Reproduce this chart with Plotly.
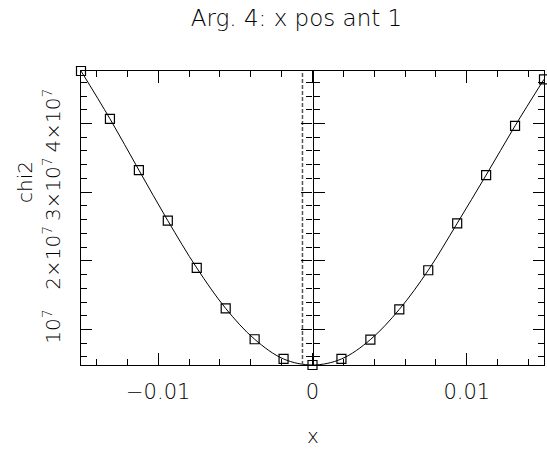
import plotly.graph_objects as go

# ---- data ----
x_vals = [-0.015, -0.013125, -0.01125, -0.009375, -0.0075, -0.005625, -0.00375, -0.001875, 0.0,
          0.001875, 0.00375, 0.005625, 0.0075, 0.009375, 0.01125, 0.013125, 0.015]
chi2_vals = [4.765e7, 4.069e7, 3.322e7, 2.585e7, 1.897e7, 1.307e7, 8.58e6, 5.71e6, 4.83e6,
             5.71e6, 8.53e6, 1.293e7, 1.863e7, 2.547e7, 3.249e7, 3.966e7, 4.644e7]
marker_x = [-0.00065]
x_tickvals = [-0.01, 0, 0.01]
x_ticktext = ["\u22120.01", "0", "0.01"]
y_tickvals = [1e7, 2e7, 3e7, 4e7]
y_ticktext = ["10<sup>7</sup>", "2\u00d710<sup>7</sup>", "3\u00d710<sup>7</sup>", "4\u00d710<sup>7</sup>"]

title_text = "Arg. 4: x pos ant 1"
xlabel = "x"
ylabel = "chi2"

FONT = "DejaVu Sans"
TXT = "#000000"
W = 200
xr = [min(x_vals), max(x_vals)]
yr = [min(chi2_vals), max(chi2_vals)]

fig = go.Figure()
fig.add_trace(go.Scatter(
    x=x_vals, y=chi2_vals, mode="lines+markers",
    line=dict(color="black", width=1, shape="spline", smoothing=1.0),
    marker=dict(symbol="square-open", size=9, color="black", line=dict(width=1.2, color="black")),
    cliponaxis=False, showlegend=False, hoverinfo="skip"))
fig.add_trace(go.Scatter(
    x=[marker_x[0], marker_x[0]], y=yr, mode="lines",
    line=dict(color="#555555", width=1.5, dash="4px,2px"),
    showlegend=False, hoverinfo="skip"))

zero_pos = (0 - xr[0]) / (xr[1] - xr[0])

axis_common = dict(showgrid=False, zeroline=False, showline=True, linecolor="black", linewidth=1.2,
                   automargin=False)

fig.update_layout(
    width=547, height=449,
    margin=dict(l=81, r=3, t=71, b=84, autoexpand=False),
    plot_bgcolor="white", paper_bgcolor="white",
    font=dict(family=FONT, color=TXT, size=20, weight=W),
    title=dict(text=title_text, x=296.5 / 547, xanchor="center", y=1 - 18 / 449, yanchor="middle",
               xref="container", yref="container", font=dict(size=23, family=FONT, color=TXT, weight=W),
               automargin=False),
    xaxis=dict(range=xr, tickvals=x_tickvals, ticktext=x_ticktext, ticks="inside", ticklen=12,
               tickwidth=1.2, tickcolor="black", mirror="ticks", ticklabelstandoff=8,
               minor=dict(dtick=0.002, tick0=0, ticks="inside", ticklen=6, tickwidth=1.2, tickcolor="black"),
               tickfont=dict(size=21, weight=W, color=TXT), **axis_common),
    yaxis=dict(range=yr, tickvals=y_tickvals, ticktext=y_ticktext, ticks="inside", ticklen=11,
               tickwidth=1.2, tickcolor="black", mirror="ticks", tickangle=-90, ticklabelstandoff=12,
               minor=dict(dtick=2e6, tick0=0, ticks="inside", ticklen=6, tickwidth=1.2, tickcolor="black"),
               tickfont=dict(size=20, weight=W, color=TXT), **axis_common),
    yaxis2=dict(range=yr, overlaying="y", anchor="free", position=zero_pos, side="left",
                tickvals=y_tickvals, showticklabels=False, ticks="outside", ticklen=11,
                tickwidth=1.2, tickcolor="black",
                minor=dict(dtick=2e6, tick0=0, ticks="outside", ticklen=6, tickwidth=1.2, tickcolor="black"),
                **axis_common),
    yaxis3=dict(range=yr, overlaying="y", anchor="free", position=zero_pos, side="left",
                tickvals=y_tickvals, showticklabels=False, ticks="inside", ticklen=11,
                tickwidth=1.2, tickcolor="black",
                minor=dict(dtick=2e6, tick0=0, ticks="inside", ticklen=6, tickwidth=1.2, tickcolor="black"),
                **axis_common),
    annotations=[
        dict(text=xlabel, xref="paper", yref="paper", x=0.5, y=(365 - 436) / 294,
             xanchor="center", yanchor="middle", showarrow=False, font=dict(size=20, color=TXT, weight=W)),
        dict(text=ylabel, xref="paper", yref="paper", x=(25 - 81) / 463, y=(365 - 182) / 294,
             xanchor="center", yanchor="middle", textangle=-90, showarrow=False,
             font=dict(size=20, color=TXT, weight=W)),
    ],
)
# placeholder traces so the overlay axes at x = 0 are drawn
fig.add_trace(go.Scatter(x=[None], y=[None], yaxis="y2", showlegend=False, hoverinfo="skip"))
fig.add_trace(go.Scatter(x=[None], y=[None], yaxis="y3", showlegend=False, hoverinfo="skip"))

fig.write_html("out.html", config={"displayModeBar": False},
               post_script="document.body.style.margin='0';document.body.style.padding='0';")
